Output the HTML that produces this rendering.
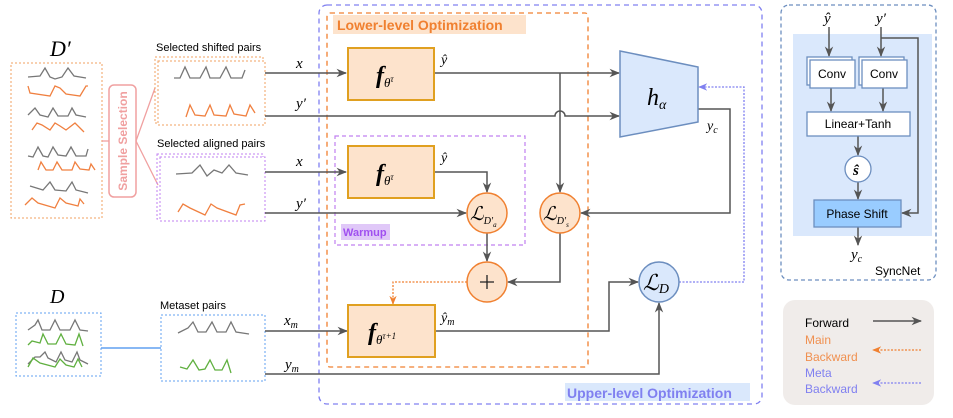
<!DOCTYPE html>
<html><head><meta charset="utf-8"><style>
body{margin:0;background:#fff}
svg{display:block}
text{font-family:"Liberation Sans",sans-serif}
.m{font-family:"Liberation Serif",serif;font-style:italic}
</style></head><body>
<svg width="953" height="418" viewBox="0 0 953 418" xmlns="http://www.w3.org/2000/svg">
<defs>
<marker id="a" viewBox="0 0 10 10" refX="9" refY="5" markerWidth="7" markerHeight="7" orient="auto"><path d="M0,1 L10,5 L0,9 L3,5 z" fill="#555"/></marker>
<marker id="ao" viewBox="0 0 10 10" refX="9" refY="5" markerWidth="7" markerHeight="7" orient="auto"><path d="M0,1 L10,5 L0,9 L3,5 z" fill="#f08030"/></marker>
<marker id="ap" viewBox="0 0 10 10" refX="9" refY="5" markerWidth="7" markerHeight="7" orient="auto"><path d="M0,1 L10,5 L0,9 L3,5 z" fill="#8080f0"/></marker>
</defs>

<!-- Upper/lower boxes -->
<rect x="319" y="5" width="443" height="399" rx="8" fill="none" stroke="#8080f0" stroke-width="1.3" stroke-dasharray="5,4"/>
<rect x="565" y="383" width="185" height="18" fill="#dae8fc"/>
<text x="567" y="398" font-size="14" font-weight="bold" fill="#8080f0">Upper-level Optimization</text>
<rect x="327" y="13" width="261" height="354" rx="3" fill="none" stroke="#f08030" stroke-width="1.3" stroke-dasharray="5,4"/>
<rect x="333" y="15" width="193" height="19" fill="#fde3cc"/>
<text x="337" y="30" font-size="14" font-weight="bold" fill="#f08030">Lower-level Optimization</text>
<rect x="335" y="136" width="190" height="109" fill="none" stroke="#c080f0" stroke-width="1.2" stroke-dasharray="4,3"/>
<rect x="341" y="224" width="49" height="16" fill="#e0c8f8"/>
<text x="343" y="236" font-size="11" font-weight="bold" fill="#a050f0">Warmup</text>

<!-- D' -->
<text x="50" y="56" font-size="22" class="m">D′</text>
<rect x="11" y="63" width="91" height="155" fill="none" stroke="#f0a060" stroke-dasharray="2,2"/>
<g fill="none" stroke-width="1.3">
<path d="M28,77 L40,76 L45,68 L50,77 L55,79 L62,77 L68,68 L74,76 L86,78" stroke="#777"/>
<path d="M28,86 L30,93 L50,96 L55,86 L60,88 L66,94 L80,96 L86,86 L88,86" stroke="#f08040"/>
<path d="M28,115 L35,108 L40,115 L48,117 L53,108 L58,116 L68,116 L72,108 L76,115 L86,117" stroke="#777"/>
<path d="M32,130 L37,123 L42,125 L50,130 L55,123 L60,126 L66,130 L75,123 L80,128 L84,132" stroke="#f08040"/>
<path d="M28,156 L33,157 L38,147 L43,156 L48,157 L53,147 L58,155 L66,156 L71,147 L76,156 L86,156 L88,149" stroke="#777"/>
<path d="M38,170 L41,162 L46,170 L53,170 L57,162 L62,170 L72,170 L75,162 L80,169 L89,170 L91,164 L95,170" stroke="#f08040"/>
<path d="M30,186 L43,190 L50,182 L55,190 L66,191 L72,182 L76,190 L88,193" stroke="#777"/>
<path d="M25,205 L32,198 L38,203 L55,208 L60,198 L66,203 L78,206 L80,199 L84,204" stroke="#f08040"/>
</g>
<line x1="102" y1="141" x2="109" y2="141" stroke="#f0a0a0" stroke-width="1.3"/>
<rect x="109" y="85" width="27" height="112" rx="5" fill="#fff" stroke="#f0a0a0" stroke-width="1.5"/>
<text transform="translate(127,141) rotate(-90)" text-anchor="middle" font-size="12" font-weight="bold" fill="#f0a0a0">Sample Selection</text>
<path d="M136,141 L155,88 M136,141 L158,185" stroke="#f0a0a0" stroke-width="1.3" fill="none"/>

<!-- shifted pairs -->
<text x="156" y="51" font-size="11">Selected shifted pairs</text>
<rect x="155" y="57" width="108" height="66" fill="none" stroke="#f0a060" stroke-dasharray="2,2"/>
<rect x="158" y="61" width="107" height="64" fill="#fff" stroke="#f0a060" stroke-dasharray="2,2"/>
<g fill="none" stroke-width="1.3">
<path d="M174,78 L180,78 L185,67 L190,78 L200,78 L206,67 L210,78 L220,78 L226,67 L231,78 L242,78 L245,70" stroke="#777"/>
<path d="M186,117 L190,105 L195,115 L205,116 L210,105 L214,115 L226,116 L230,105 L234,114 L246,116 L250,105 L255,113" stroke="#f08040"/>
</g>
<text x="157" y="147" font-size="11">Selected aligned pairs</text>
<rect x="157" y="154" width="106" height="65" fill="none" stroke="#c080f0" stroke-dasharray="2,2"/>
<rect x="160" y="157" width="105" height="64" fill="#fff" stroke="#c080f0" stroke-dasharray="2,2"/>
<g fill="none" stroke-width="1.3">
<path d="M176,174 L192,173 L200,165 L207,176 L214,170 L222,173 L229,165 L236,173 L248,175" stroke="#777"/>
<path d="M178,212 L183,204 L190,208 L205,215 L211,204 L217,208 L236,215 L240,205 L245,204" stroke="#f08040"/>
</g>

<!-- D -->
<text x="50" y="303" font-size="20" class="m">D</text>
<rect x="16" y="313" width="85" height="63" fill="none" stroke="#60a0f0" stroke-dasharray="2,2"/>
<g fill="none" stroke-width="1.3">
<path d="M28,330 L35,325 L38,320 L42,330 L50,330 L55,320 L60,330 L70,330 L75,320 L80,330 L88,331" stroke="#777"/>
<path d="M28,345 L32,341 L40,343 L43,334 L48,344 L56,344 L61,334 L66,344 L75,345 L79,334 L83,346" stroke="#60b040"/>
<path d="M28,370 L35,363 L40,363 L45,358 L48,364 L56,368 L61,358 L65,366 L72,368 L77,358 L80,366 L88,370" stroke="#777" transform="translate(0,-6)"/>
<path d="M28,372 L33,363 L40,368 L55,372 L60,364 L66,370 L74,372 L78,364 L82,372" stroke="#60b040" transform="translate(0,-5)"/>
</g>
<line x1="101" y1="348" x2="161" y2="348" stroke="#60a0f0" stroke-width="1.5"/>
<text x="160" y="309" font-size="11">Metaset pairs</text>
<rect x="161" y="315" width="104" height="66" fill="none" stroke="#60a0f0" stroke-dasharray="2,2"/>
<g fill="none" stroke-width="1.3">
<path d="M178,333 L188,328 L193,322 L198,332 L206,332 L212,322 L217,332 L226,332 L231,322 L236,332 L249,334" stroke="#777"/>
<path d="M180,367 L187,369 L193,360 L199,370 L205,369 L210,360 L215,370 L222,370 L227,360 L231,373" stroke="#60b040"/>
</g>

<!-- connectors -->
<g stroke="#555" stroke-width="1.5" fill="none">
<line x1="265" y1="73" x2="346" y2="73" marker-end="url(#a)"/>
<path d="M265,116 L555,116 A5,5 0 0 1 565,116 L619,116" marker-end="url(#a)"/>
<line x1="435" y1="73" x2="619" y2="73" marker-end="url(#a)"/>
<line x1="560" y1="73" x2="560" y2="192" marker-end="url(#a)"/>
<line x1="265" y1="172" x2="346" y2="172" marker-end="url(#a)"/>
<path d="M435,172 L487,172 L487,192" marker-end="url(#a)"/>
<line x1="265" y1="213" x2="466" y2="213" marker-end="url(#a)"/>
<path d="M698,109 L730,109 L730,213 L581,213" marker-end="url(#a)"/>
<line x1="487" y1="233" x2="487" y2="261" marker-end="url(#a)"/>
<path d="M560,233 L560,282 L508,282" marker-end="url(#a)"/>
<line x1="265" y1="331" x2="347" y2="331" marker-end="url(#a)"/>
<path d="M435,331 L609,331 L609,282 L638,282" marker-end="url(#a)"/>
<path d="M265,374 L659,374 L659,303" marker-end="url(#a)"/>
</g>
<path d="M467,282 L393,282 L393,304" stroke="#f08030" stroke-width="1.3" stroke-dasharray="2,1.5" fill="none" marker-end="url(#ao)"/>
<path d="M679,282 L744,282 L744,87 L699,87" stroke="#8080f0" stroke-width="1.3" stroke-dasharray="2,1.5" fill="none" marker-end="url(#ap)"/>

<text x="296" y="68" font-size="15" class="m">x</text>
<text x="296" y="108" font-size="15" class="m">y′</text>
<text x="296" y="166" font-size="15" class="m">x</text>
<text x="296" y="208" font-size="15" class="m">y′</text>
<text x="284" y="325" font-size="15" class="m">x<tspan font-size="10" dy="3">m</tspan></text>
<text x="285" y="369" font-size="15" class="m">y<tspan font-size="10" dy="3">m</tspan></text>

<!-- f boxes -->
<g fill="#fde3cc" stroke="#e0a020" stroke-width="2">
<rect x="348" y="48" width="86" height="52"/>
<rect x="348" y="146" width="86" height="52"/>
<rect x="348" y="305" width="87" height="52"/>
</g>
<text x="376" y="83" font-size="24" class="m" font-weight="bold">f<tspan font-size="13" dy="4" font-weight="normal">θ<tspan font-size="9" dy="-5">τ</tspan></tspan></text>
<text x="376" y="181" font-size="24" class="m" font-weight="bold">f<tspan font-size="13" dy="4" font-weight="normal">θ<tspan font-size="9" dy="-5">τ</tspan></tspan></text>
<text x="368" y="340" font-size="24" class="m" font-weight="bold">f<tspan font-size="13" dy="4" font-weight="normal">θ<tspan font-size="9" dy="-5">τ+1</tspan></tspan></text>
<text x="441" y="64" font-size="14" class="m">ŷ</text>
<text x="441" y="162" font-size="14" class="m">ŷ</text>
<text x="441" y="322" font-size="14" class="m">ŷ<tspan font-size="10" dy="3">m</tspan></text>

<!-- h alpha -->
<polygon points="620,51 698,67 698,122 620,137" fill="#dae8fc" stroke="#6c8ebf" stroke-width="1.5"/>
<text x="647" y="105" font-size="24" class="m">h<tspan font-size="14" dy="4">α</tspan></text>
<text x="707" y="130" font-size="14" class="m">y<tspan font-size="10" dy="3">c</tspan></text>

<!-- circles -->
<g fill="#fde3cc" stroke="#f08030" stroke-width="1.5">
<circle cx="487" cy="213" r="20"/><circle cx="560" cy="213" r="20"/><circle cx="487" cy="282" r="20"/>
</g>
<circle cx="659" cy="282" r="20" fill="#dae8fc" stroke="#6c8ebf" stroke-width="1.5"/>
<text x="470" y="220" font-size="19" class="m">ℒ<tspan font-size="10" dy="4">D′<tspan font-size="7" dy="3">a</tspan></tspan></text>
<text x="543" y="220" font-size="19" class="m">ℒ<tspan font-size="10" dy="4">D′<tspan font-size="7" dy="3">s</tspan></tspan></text>
<path d="M480,282 H494 M487,275 V289" stroke="#222" stroke-width="1.3"/>
<text x="643" y="290" font-size="22" class="m">ℒ<tspan font-size="14" dy="3">D</tspan></text>

<!-- SyncNet -->
<rect x="781" y="5" width="155" height="275" rx="8" fill="none" stroke="#6c8ebf" stroke-width="1.3" stroke-dasharray="4,3"/>
<rect x="793" y="34" width="139" height="202" fill="#dae8fc"/>
<text x="824" y="23" font-size="15" class="m">ŷ</text>
<text x="876" y="23" font-size="15" class="m">y′</text>
<g stroke="#555" stroke-width="1.5" fill="none">
<line x1="829" y1="27" x2="829" y2="56" marker-end="url(#a)"/>
<line x1="881" y1="27" x2="881" y2="56" marker-end="url(#a)"/>
<path d="M881,38 L918,38 L918,213 L902,213" marker-end="url(#a)"/>
<line x1="831" y1="88" x2="831" y2="111" marker-end="url(#a)"/>
<line x1="883" y1="88" x2="883" y2="111" marker-end="url(#a)"/>
<line x1="858" y1="136" x2="858" y2="155" marker-end="url(#a)"/>
<line x1="858" y1="182" x2="858" y2="199" marker-end="url(#a)"/>
<line x1="858" y1="227" x2="858" y2="245" marker-end="url(#a)"/>
</g>
<g fill="#fff" stroke="#6c8ebf" stroke-width="1.3">
<rect x="807" y="57" width="45" height="28"/><rect x="810" y="60" width="45" height="28"/>
<rect x="859" y="57" width="45" height="28"/><rect x="862" y="60" width="45" height="28"/>
<rect x="807" y="112" width="103" height="24"/>
<circle cx="858" cy="169" r="13"/>
</g>
<rect x="814" y="200" width="87" height="27" fill="#99ccff" stroke="#6c8ebf" stroke-width="1.3"/>
<text x="832" y="78" font-size="12" text-anchor="middle">Conv</text>
<text x="884" y="78" font-size="12" text-anchor="middle">Conv</text>
<text x="858" y="128" font-size="12" text-anchor="middle">Linear+Tanh</text>
<text x="853" y="175" font-size="15" class="m" font-weight="bold">ŝ</text>
<text x="857" y="218" font-size="12" text-anchor="middle">Phase Shift</text>
<text x="851" y="259" font-size="15" class="m">y<tspan font-size="10" dy="3">c</tspan></text>
<text x="875" y="275" font-size="12">SyncNet</text>

<!-- legend -->
<rect x="783" y="300" width="151" height="105" rx="12" fill="#f0ecea"/>
<text x="805" y="327" font-size="12">Forward</text>
<text x="805" y="344" font-size="12" fill="#f09050">Main</text>
<text x="805" y="361" font-size="12" fill="#f09050">Backward</text>
<text x="805" y="377" font-size="12" fill="#8080f0">Meta</text>
<text x="805" y="393" font-size="12" fill="#8080f0">Backward</text>
<line x1="873" y1="321" x2="921" y2="321" stroke="#555" stroke-width="1.5" marker-end="url(#a)"/>
<line x1="921" y1="350" x2="873" y2="350" stroke="#f08030" stroke-width="1.3" stroke-dasharray="2,1.5" marker-end="url(#ao)"/>
<line x1="921" y1="383" x2="873" y2="383" stroke="#8080f0" stroke-width="1.3" stroke-dasharray="2,1.5" marker-end="url(#ap)"/>
</svg>
</body></html>
